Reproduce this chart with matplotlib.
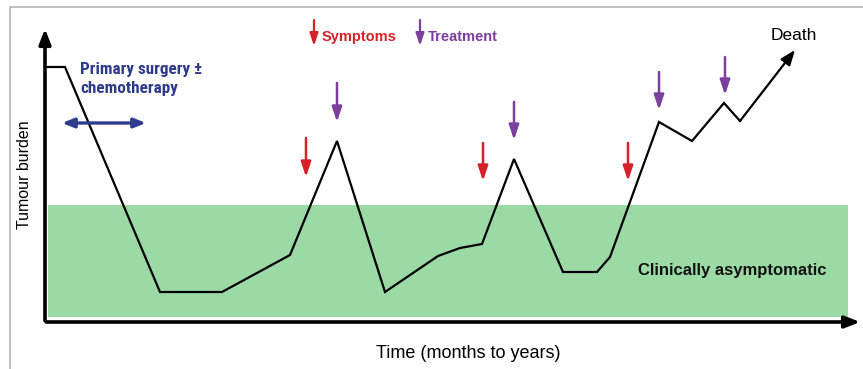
import matplotlib.pyplot as plt
from matplotlib.patches import Rectangle

# course of tumour burden over time (x: time, y: burden, arbitrary units)
time = [0, 20, 115, 177, 245, 292, 340, 393, 415, 437, 469, 518, 552, 565, 614, 647, 679, 695, 750]
burden = [255, 255, 30, 30, 67, 181, 30, 66, 74, 78, 163, 50, 50, 65, 200, 181, 219, 201, 272]

# symptom arrows (x, top, bottom) and treatment arrows
symptom_x = [261, 438, 583]
symptom_top = [184, 179, 179]
symptom_bot = [145, 141, 141]
treat_x = [292, 469, 614, 680]
treat_top = [239, 220, 250, 265]
treat_bot = [200, 182, 212, 227]

zone_x = (3, 803)
zone_y = (5, 117)

red = '#d7202a'
purple = '#7b3f9e'
blue = '#2e3a8c'
green = '#9cdaa5'

fig = plt.figure(figsize=(8.63, 3.69), dpi=100)
ax = fig.add_axes([0, 0, 1, 1])
ax.set_xlim(-45, 818)
ax.set_ylim(-47, 322)
ax.axis('off')

bold = ['Roboto Condensed', 'Liberation Sans Narrow', 'Roboto', 'DejaVu Sans']
reg = ['Liberation Sans', 'DejaVu Sans']

# outer frame
ax.plot([-35, -35, 830], [-60, 315, 315], color='#b5b5b5', lw=1.2, clip_on=False)

ax.add_patch(Rectangle((zone_x[0], zone_y[0]), zone_x[1] - zone_x[0], zone_y[1] - zone_y[0],
                       color=green, lw=0))
ax.text(687, 52, 'Clinically asymptomatic', ha='center', va='center',
        fontsize=12, fontweight='bold', family=['Liberation Sans', 'DejaVu Sans'], color='#111111')

# axes arrows
ax.annotate('', xy=(0, 296), xytext=(0, -1.5),
            arrowprops=dict(arrowstyle='-|>,head_length=0.9,head_width=0.35', color='black', lw=2.6))
ax.annotate('', xy=(818, 0), xytext=(-1.5, 0),
            arrowprops=dict(arrowstyle='-|>,head_length=0.9,head_width=0.35', color='black', lw=2.6))

ax.plot(time[:-1], burden[:-1], color='black', lw=1.6, solid_joinstyle='miter')
ax.annotate('', xy=(time[-1], burden[-1]), xytext=(time[-2], burden[-2]),
            arrowprops=dict(arrowstyle='-|>,head_length=0.9,head_width=0.35', color='black', lw=1.6,
                            shrinkA=0, shrinkB=0))

for x, t, b in zip(symptom_x, symptom_top, symptom_bot):
    ax.annotate('', xy=(x, b), xytext=(x, t),
                arrowprops=dict(arrowstyle='-|>,head_length=0.9,head_width=0.3', color=red, lw=1.8,
                                shrinkA=0, shrinkB=0))
for x, t, b in zip(treat_x, treat_top, treat_bot):
    ax.annotate('', xy=(x, b), xytext=(x, t),
                arrowprops=dict(arrowstyle='-|>,head_length=0.9,head_width=0.3', color=purple, lw=1.8,
                                shrinkA=0, shrinkB=0))

# legend
ax.annotate('', xy=(269, 276), xytext=(269, 302),
            arrowprops=dict(arrowstyle='-|>,head_length=0.75,head_width=0.25', color=red, lw=1.6,
                            shrinkA=0, shrinkB=0))
ax.text(277, 285, 'Symptoms', ha='left', va='center', fontsize=10.5, fontweight='bold',
        family=['Liberation Sans', 'DejaVu Sans'], color=red)
ax.annotate('', xy=(375, 276), xytext=(375, 302),
            arrowprops=dict(arrowstyle='-|>,head_length=0.75,head_width=0.25', color=purple, lw=1.6,
                            shrinkA=0, shrinkB=0))
ax.text(383, 285, 'Treatment', ha='left', va='center', fontsize=10.5, fontweight='bold',
        family=['Liberation Sans', 'DejaVu Sans'], color=purple)

ax.text(35, 243, 'Primary surgery \u00b1\nchemotherapy', ha='left', va='center', fontsize=12.3,
        fontweight='bold', family=bold, color=blue, linespacing=1.3)
ax.annotate('', xy=(17, 199), xytext=(101, 199),
            arrowprops=dict(arrowstyle='<|-|>,head_length=0.7,head_width=0.28', color=blue, lw=2.4,
                            shrinkA=0, shrinkB=0))

ax.text(749, 287, 'Death', ha='center', va='center', fontsize=12.5, family=reg, color='black')
ax.text(-20, 147, 'Tumour burden', rotation=90, ha='center', va='center', fontsize=11.5,
        family=reg, color='black')
ax.text(423, -31, 'Time (months to years)', ha='center', va='center', fontsize=13,
        family=reg, color='black')

fig.savefig('out.png', dpi=100)
